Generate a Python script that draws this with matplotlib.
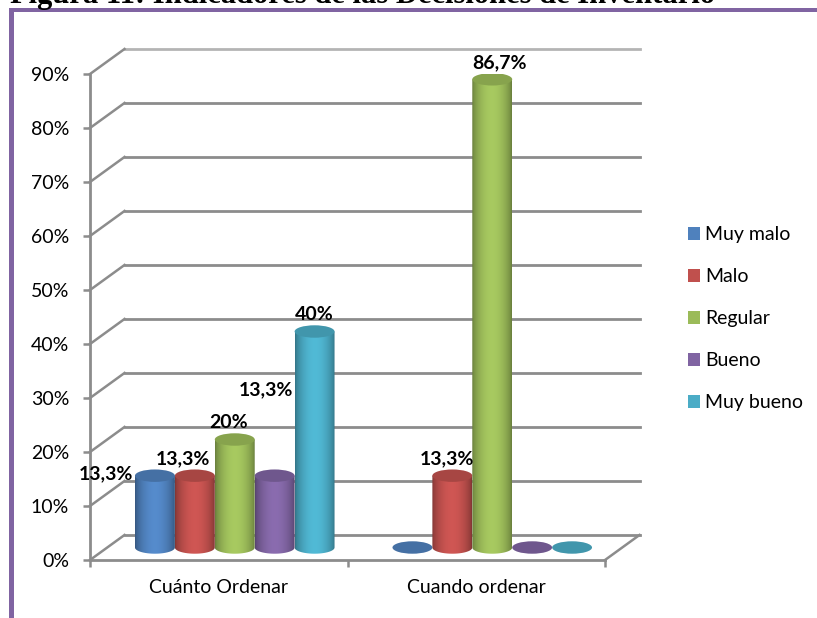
import matplotlib
matplotlib.use("Agg")
import matplotlib.pyplot as plt
import numpy as np
from matplotlib.lines import Line2D
from matplotlib.patches import Ellipse, PathPatch, Patch, Rectangle
from matplotlib.path import Path
from matplotlib.transforms import ScaledTranslation

categories = ["Cuánto Ordenar", "Cuando ordenar"]
series = ["Muy malo", "Malo", "Regular", "Bueno", "Muy bueno"]
values = [[13.3, 13.3, 20, 13.3, 40],
          [0, 13.3, 86.7, 0, 0]]
bar_labels = [["13,3%", "13,3%", "20%", "13,3%", "40%"],
              [None, "13,3%", "86,7%", None, None]]
label_offsets = [[(-49, -7), (-12, 8), (-6, 8), (-9, 77), (0, 8)],
                 [None, (-5, 8), (7, 8), None, None]]
colors = ["#4f81bd", "#c0504d", "#9bbb59", "#8064a2", "#4bacc6"]
yticks = list(range(0, 100, 10))

W, H = 817, 618
grey = "#8c8c8c"

plt.rcParams["font.family"] = ["Lato", "DejaVu Sans"]
fig = plt.figure(figsize=(W / 100, H / 100), dpi=100)
ax = fig.add_axes([90 / W, 1 - 560 / H, 515 / W, 486 / H])
ax.set_xlim(0, 2)
ax.set_ylim(0, 90)


def shift(px, py):
    return ax.transData + ScaledTranslation(px / 100, py / 100, fig.dpi_scale_trans)


back = shift(34.5, 25)
middle = shift(16, 12.5)

# walls and floor
for y in yticks:
    lc = "#b4b4b4" if y == 90 else grey
    ax.plot([0, 2], [y, y], color=lc, lw=2, transform=back, clip_on=False, zorder=1)
    x0, y0 = ax.transData.transform((0, y))
    x1, y1 = back.transform((0, y))
    fig.add_artist(Line2D([x0 / W, x1 / W], [y0 / H, y1 / H], color=grey, lw=1.8, zorder=1))
x0, y0 = ax.transData.transform((2, 0))
x1, y1 = back.transform((2, 0))
fig.add_artist(Line2D([x0 / W, x1 / W], [y0 / H, y1 / H], color=grey, lw=1.8, zorder=1))


def shade(color):
    base = np.array(matplotlib.colors.to_rgb(color))
    t = np.linspace(0, 1, 60)
    k = 0.68 + 0.40 * np.sin(np.pi * t) ** 0.7
    return np.clip(base[None, None, :] * k[None, :, None], 0, 1)


def cylinder(xc, v, color, z):
    w = 0.155
    eh = 2.3
    rgb = np.array(matplotlib.colors.to_rgb(color))
    if v > 0:
        # body outline: straight sides with a rounded lower edge
        a = np.linspace(np.pi, 2 * np.pi, 30)
        pts = [(xc - w / 2, v)]
        pts += [(xc + w / 2 * np.cos(t), eh / 2 * np.sin(t)) for t in a]
        pts += [(xc + w / 2, v), (xc - w / 2, v)]
        clip = PathPatch(Path(pts), transform=middle, fc="none", ec="none")
        ax.add_patch(clip)
        im = ax.imshow(shade(color), extent=[xc - w / 2, xc + w / 2, -eh, v], aspect="auto", zorder=z)
        im.set_transform(middle)
        im.set_clip_path(clip)
    top = Ellipse((xc, v), w, eh, transform=middle, fc=tuple(rgb * 0.87), ec="none", zorder=z + 0.1)
    ax.add_patch(top)


for c, row in enumerate(values):
    for i, v in enumerate(row):
        xc = c + 0.5 + (i - 2) * 0.155
        cylinder(xc, v, colors[i], 3 + i * 0.2)
        lab = bar_labels[c][i]
        if lab:
            ax.annotate(lab, (xc, v), xycoords=middle, xytext=label_offsets[c][i],
                        textcoords="offset pixels", ha="center", va="bottom",
                        fontsize=14, fontweight="bold", color="black", zorder=10,
                        annotation_clip=False)

ax.set_xlim(0, 2)
ax.set_ylim(0, 90)
ax.patch.set_alpha(0)
ax.set_xticks([0, 1, 2])
ax.set_xticks([0.5, 1.5], labels=categories, minor=True)
ax.set_xticklabels([])
ax.set_yticks(yticks)
ax.set_yticklabels([f"{y}%" for y in yticks])
ax.tick_params(axis="x", which="major", length=5, width=1.8, color=grey)
ax.tick_params(axis="x", which="minor", length=0, labelsize=14, pad=14)
ax.tick_params(axis="y", length=5, width=1.8, color=grey, labelsize=14, pad=10)
for s in ["top", "right"]:
    ax.spines[s].set_visible(False)
for s in ["left", "bottom"]:
    ax.spines[s].set_color(grey)
    ax.spines[s].set_linewidth(2)

handles = [Patch(facecolor=c, label=s) for c, s in zip(colors, series)]
fig.legend(handles=handles, loc="upper left", bbox_to_anchor=(670 / W, 1 - 209 / H), frameon=False,
           fontsize=14, handlelength=0.62, handleheight=0.62, handletextpad=0.3, labelspacing=1.28)

# frame of the embedded chart and the caption above it
purple = "#8064a2"
fig.add_artist(Rectangle((8.5 / W, 0), 5 / W, 1 - 8 / H, color=purple, lw=0))
fig.add_artist(Rectangle((8.5 / W, 1 - 11.5 / H), 1 - 8.5 / W, 3.5 / H, color=purple, lw=0))
fig.text(10 / W, 1 - 3 / H, "Figura 11: Indicadores de las Decisiones de Inventario",
         family=["Liberation Serif"], fontweight="bold", fontsize=22, va="baseline", ha="left")

fig.savefig("out.png", dpi=100)
